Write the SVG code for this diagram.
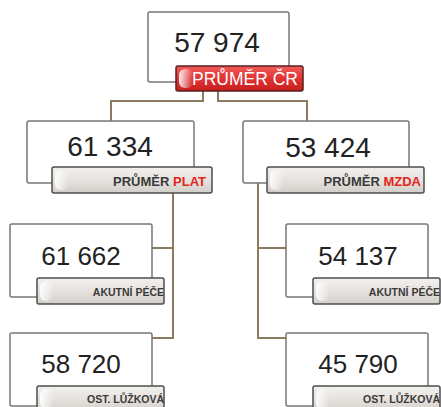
<svg xmlns="http://www.w3.org/2000/svg" width="441" height="407" viewBox="0 0 441 407">
<style>
.box{fill:#fff;stroke:#777;stroke-width:1.5}
.lbl{fill:url(#gg);stroke:#4d4d4d;stroke-width:1.5}
.rlbl{fill:url(#rg);stroke:#5a2020;stroke-width:1.5}
.hl{fill:url(#hlg)}
.num{font-family:"Liberation Sans",Arial,sans-serif;fill:#222;text-anchor:middle}
.lt{font-family:"Liberation Sans",Arial,sans-serif;font-weight:bold;fill:#3a3a3a;text-anchor:end}
.red{fill:#e3261c}
.conn{fill:none;stroke:#8b7b60;stroke-width:2}
</style>
<defs>
<linearGradient id="gg" x1="0" y1="0" x2="0" y2="1">
<stop offset="0" stop-color="#f2f0ee"/><stop offset="0.5" stop-color="#e6e2de"/><stop offset="1" stop-color="#d2ceca"/>
</linearGradient>
<linearGradient id="rg" x1="0" y1="0" x2="0" y2="1">
<stop offset="0" stop-color="#f25a5a"/><stop offset="0.5" stop-color="#e03434"/><stop offset="1" stop-color="#c81e1e"/>
</linearGradient>
<linearGradient id="hlg" x1="0" y1="0" x2="1" y2="0">
<stop offset="0" stop-color="#fff" stop-opacity="0.9"/><stop offset="1" stop-color="#fff" stop-opacity="0"/>
</linearGradient>
</defs>
<g id="connectors">
<path class="conn" d="M203,91 V101 H111 V121"/>
<path class="conn" d="M218,91 V101 H307 V121"/>
<path class="conn" d="M173,193 V338 H152 M173,248 H152"/>
<path class="conn" d="M258,183 V338 H286 M258,248 H286"/>
</g>
<g id="n-cr">
<rect class="box" x="148" y="12" width="141" height="70" rx="2"/>
<text class="num" x="217" y="52" font-size="28">57 974</text>
<rect class="rlbl" x="176" y="66" width="127" height="25" rx="2"/>
<rect class="hl" x="179" y="69" width="14" height="19" rx="6"/>
<text x="298" y="85" font-family="Liberation Sans,Arial,sans-serif" font-size="17.5" fill="#fff" text-anchor="end">PRŮMĚR ČR</text>
</g>
<g id="n-plat">
<rect class="box" x="27" y="121" width="167" height="62" rx="2"/>
<text class="num" x="110" y="156" font-size="28">61 334</text>
<rect class="lbl" x="52" y="167" width="160" height="26" rx="2"/>
<rect class="hl" x="55" y="170" width="14" height="20" rx="6"/>
<text class="lt" x="206" y="186" font-size="13">PRŮMĚR <tspan class="red">PLAT</tspan></text>
</g>
<g id="n-mzda">
<rect class="box" x="243" y="121" width="166" height="62" rx="2"/>
<text class="num" x="328" y="157" font-size="28">53 424</text>
<rect class="lbl" x="267" y="167" width="157" height="26" rx="2"/>
<rect class="hl" x="270" y="170" width="14" height="20" rx="6"/>
<text class="lt" x="421" y="186" font-size="13">PRŮMĚR <tspan class="red">MZDA</tspan></text>
</g>
<g id="n-plat-akutni">
<rect class="box" x="10" y="224" width="142" height="73" rx="2"/>
<text class="num" x="81" y="265" font-size="26">61 662</text>
<rect class="lbl" x="37" y="278" width="127" height="26" rx="2"/>
<rect class="hl" x="40" y="281" width="14" height="20" rx="6"/>
<text class="lt" x="164" y="296" font-size="10.5">AKUTNÍ PÉČE</text>
</g>
<g id="n-mzda-akutni">
<rect class="box" x="286" y="224" width="142" height="73" rx="2"/>
<text class="num" x="358" y="265" font-size="26">54 137</text>
<rect class="lbl" x="313" y="278" width="127" height="26" rx="2"/>
<rect class="hl" x="316" y="281" width="14" height="20" rx="6"/>
<text class="lt" x="440" y="296" font-size="10.5">AKUTNÍ PÉČE</text>
</g>
<g id="n-plat-ost">
<rect class="box" x="10" y="333" width="142" height="73" rx="2"/>
<text class="num" x="81" y="373" font-size="26">58 720</text>
<rect class="lbl" x="37" y="386" width="127" height="26" rx="2"/>
<rect class="hl" x="40" y="389" width="14" height="20" rx="6"/>
<text class="lt" x="164" y="403" font-size="10.5">OST. LŮŽKOVÁ</text>
</g>
<g id="n-mzda-ost">
<rect class="box" x="286" y="333" width="142" height="73" rx="2"/>
<text class="num" x="358" y="373" font-size="26">45 790</text>
<rect class="lbl" x="313" y="386" width="127" height="26" rx="2"/>
<rect class="hl" x="316" y="389" width="14" height="20" rx="6"/>
<text class="lt" x="440" y="403" font-size="10.5">OST. LŮŽKOVÁ</text>
</g>
</svg>
